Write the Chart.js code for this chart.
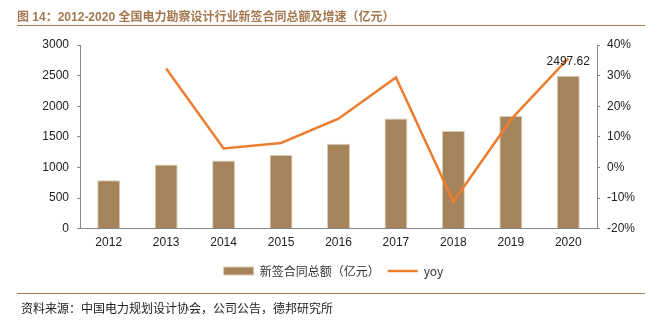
<!DOCTYPE html>
<html>
<head>
<meta charset="utf-8">
<script src="https://cdn.jsdelivr.net/npm/chart.js@4.4.0/dist/chart.umd.min.js"></script>
<style>
  body { margin: 0; background: #fff; }
  #wrap { position: relative; width: 652px; height: 332px; }
  #chart { position: absolute; left: 0; top: 0; }
  .title {
    position: absolute; left: 17px; top: 7px;
    font: bold 12px "Liberation Sans", "Noto Sans CJK SC", sans-serif;
    color: #a5774f; white-space: nowrap;
  }
  .rule { position: absolute; left: 17px; width: 628px; background: #a5774f; }
  .source {
    position: absolute; left: 21px; top: 299px;
    font: 12px "Noto Sans CJK SC", sans-serif; color: #222; white-space: nowrap;
  }
</style>
</head>
<body>
<div id="wrap">
  <canvas id="chart" width="652" height="332"></canvas>
  <div class="title">图 14：2012-2020 全国电力勘察设计行业新签合同总额及增速（亿元）</div>
  <div class="rule" style="top:25px;height:1px"></div>
  <div class="rule" style="top:293px;height:1px"></div>
  <div class="source">资料来源：中国电力规划设计协会，公司公告，德邦研究所</div>
</div>
<script>
// dados
const anos = ["2012", "2013", "2014", "2015", "2016", "2017", "2018", "2019", "2020"];
const contratos = [790, 1047, 1112, 1201, 1387, 1799, 1596, 1840, 2497.62];
const yoy = [null, 32.3, 6.2, 8.0, 15.9, 29.4, -11.2, 15.6, 35.6];
const ticksEsq = [0, 500, 1000, 1500, 2000, 2500, 3000];
const ticksDir = [-20, -10, 0, 10, 20, 30, 40];

const marrom = "#a6845b";
const laranja = "#ed7d31";
const fonte = "'Liberation Sans', Arial, sans-serif";

// rótulo só na última barra
const rotuloUltima = {
    id: "rotuloUltima",
    afterDatasetsDraw(chart) {
        const meta = chart.getDatasetMeta(0);
        const i = contratos.length - 1;
        const bar = meta.data[i];
        const ctx = chart.ctx;
        ctx.save();
        ctx.font = "12px " + fonte;
        ctx.fillStyle = "#222";
        ctx.textAlign = "center";
        ctx.textBaseline = "middle";
        ctx.fillText(contratos[i].toFixed(2), bar.x, bar.y - 14);
        ctx.restore();
    }
};

new Chart(document.getElementById("chart"), {
    data: {
        labels: anos,
        datasets: [
            {
                type: "bar",
                label: "新签合同总额（亿元）",
                data: contratos,
                backgroundColor: marrom,
                borderColor: "#dccbb3",
                borderWidth: 1,
                barPercentage: 0.4,
                categoryPercentage: 1,
                yAxisID: "y",
                pointStyle: "rect",
                order: 2
            },
            {
                type: "line",
                label: "yoy",
                data: yoy,
                borderColor: laranja,
                backgroundColor: laranja,
                borderWidth: 2.5,
                pointRadius: 0,
                tension: 0,
                yAxisID: "y1",
                pointStyle: "line",
                order: 1
            }
        ]
    },
    plugins: [rotuloUltima],
    options: {
        responsive: false,
        animation: false,
        layout: { padding: { left: 30, right: 15, top: 45, bottom: 45 } },
        plugins: {
            legend: {
                position: "bottom",
                labels: {
                    usePointStyle: true,
                    pointStyleWidth: 30,
                    boxHeight: 8,
                    padding: 8,
                    color: "#333",
                    font: { family: "'Noto Sans CJK SC', sans-serif", size: 12 },
                    sort: (a, b) => a.datasetIndex - b.datasetIndex
                }
            },
            tooltip: { enabled: false }
        },
        scales: {
            x: {
                grid: { display: true, drawOnChartArea: false, tickLength: 0, color: "#888" },
                border: { color: "#888" },
                ticks: { color: "#222", padding: 7, font: { family: fonte, size: 12 } }
            },
            y: {
                position: "left",
                min: 0, max: 3000,
                afterFit: s => { s.width = 50; },
                afterBuildTicks: s => { s.ticks = ticksEsq.map(v => ({ value: v })); },
                grid: { drawOnChartArea: false, tickLength: 3, color: "#888" },
                border: { color: "#888" },
                ticks: {
                    color: "#222", padding: 8, font: { family: fonte, size: 12 },
                    callback: v => String(v)
                }
            },
            y1: {
                position: "right",
                min: -20, max: 40,
                afterFit: s => { s.width = 40; },
                afterBuildTicks: s => { s.ticks = ticksDir.map(v => ({ value: v })); },
                grid: { drawOnChartArea: false, tickLength: 3, color: "#888" },
                border: { color: "#888" },
                ticks: {
                    color: "#222", padding: 7, font: { family: fonte, size: 12 },
                    callback: v => v + "%"
                }
            }
        }
    }
});
</script>
</body>
</html>
